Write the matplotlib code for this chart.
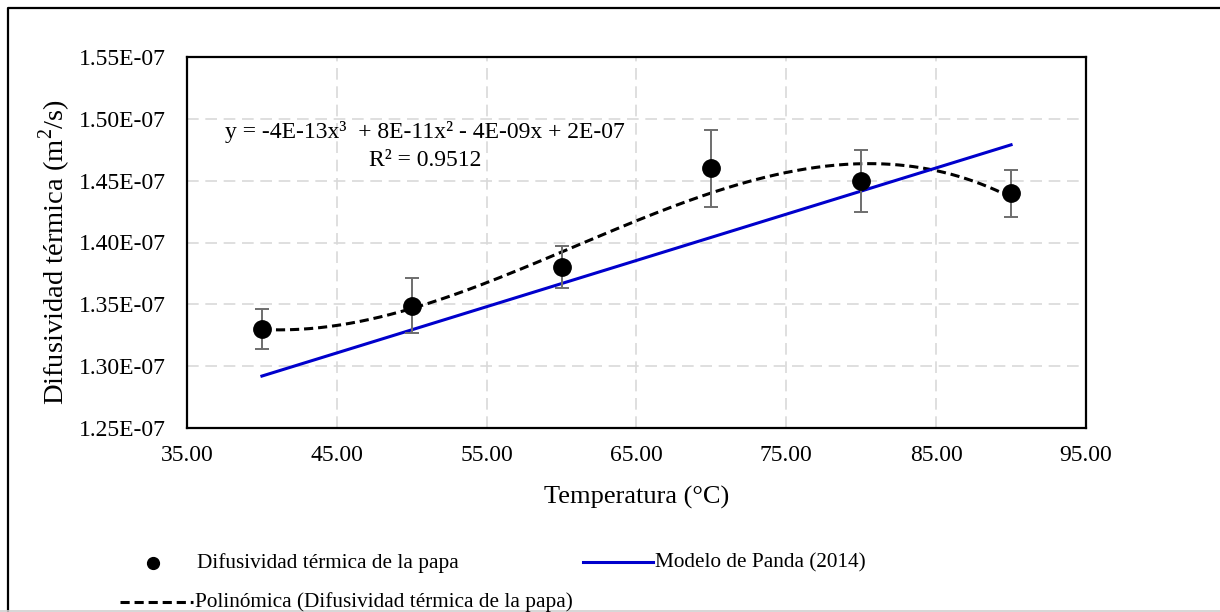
import numpy as np
import matplotlib
matplotlib.use("Agg")
import matplotlib.pyplot as plt
from matplotlib.lines import Line2D
from matplotlib.ticker import FixedLocator, FuncFormatter

plt.rcParams['font.family'] = ['Liberation Serif', 'DejaVu Serif']
plt.rcParams['mathtext.fontset'] = 'custom'
plt.rcParams['mathtext.rm'] = 'Liberation Serif'

# Data
temperatura = [40, 50, 60, 70, 80, 90]
difusividad = [1.330e-7, 1.349e-7, 1.380e-7, 1.460e-7, 1.450e-7, 1.440e-7]
error = [0.016e-7, 0.022e-7, 0.017e-7, 0.031e-7, 0.025e-7, 0.019e-7]
panda_x = [40, 90]
panda_y = [1.292e-7, 1.479e-7]
x_ticks = [35, 45, 55, 65, 75, 85, 95]
y_ticks = [1.25e-7, 1.30e-7, 1.35e-7, 1.40e-7, 1.45e-7, 1.50e-7, 1.55e-7]
ecuacion = "y = -4E-13x³  + 8E-11x² - 4E-09x + 2E-07"
r2_text = "R² = 0.9512"
x_label = "Temperatura (°C)"
y_label = "Difusividad térmica (m$^{2}$/s)"
label_pts = "Difusividad térmica de la papa"
label_panda = "Modelo de Panda (2014)"
label_poly = "Polinómica (Difusividad térmica de la papa)"

W, H = 1220, 612
fig = plt.figure(figsize=(W / 100, H / 100), dpi=100)

def fx(px):
    return px / W

def fy(py):
    return 1 - py / H

ax_l, ax_r, ax_t, ax_b = 187, 1086, 57, 428
ax = fig.add_axes([fx(ax_l), fy(ax_b), fx(ax_r - ax_l), (ax_b - ax_t) / H])

# Cubic trendline fitted to the data
coef = np.polyfit(temperatura, difusividad, 3)
xs = np.linspace(min(temperatura), max(temperatura), 300)
ax.plot(xs, np.polyval(coef, xs), color='black', lw=2.2, dashes=[3, 1.6], zorder=3)

# Panda model
ax.plot(panda_x, panda_y, color='#0000cc', lw=2.2, zorder=3)

# Data points with error bars
ax.errorbar(temperatura, difusividad, yerr=error, fmt='o', color='black',
            ecolor='#6e6e6e', elinewidth=1.4, capsize=5, capthick=1.4,
            markersize=12.5, zorder=4)

ax.set_xlim(35, 95)
ax.set_ylim(1.25e-7, 1.55e-7)
ax.xaxis.set_major_locator(FixedLocator(x_ticks))
ax.yaxis.set_major_locator(FixedLocator(y_ticks))
ax.xaxis.set_major_formatter(FuncFormatter(lambda v, p: f"{v:.2f}"))
ax.yaxis.set_major_formatter(FuncFormatter(lambda v, p: f"{v:.2E}"))
ax.grid(True, color='#d9d9d9', lw=1.2, dashes=(7, 4))
ax.set_axisbelow(True)
ax.tick_params(length=0, labelsize=17, colors='black')
ax.tick_params(axis='x', pad=12)
ax.tick_params(axis='y', pad=15)
for s in ax.spines.values():
    s.set_linewidth(1.6)
    s.set_color('black')

# Axis titles
fig.text(fx(637), fy(497), x_label, ha='center', va='center', fontsize=19)
fig.text(fx(55), fy(252), y_label, ha='center', va='center', fontsize=20.5,
         rotation=90)

# Equation annotation
fig.text(fx(425), fy(132), ecuacion, ha='center', va='center', fontsize=17)
fig.text(fx(425), fy(160), r2_text, ha='center', va='center', fontsize=17)

# Legend (manual, Excel-like layout)
leg_fs = 15.3
fig.add_artist(Line2D([fx(153)], [fy(563)], marker='o', color='black',
                      markersize=8.5, lw=0, transform=fig.transFigure))
fig.text(fx(197), fy(563), label_pts, ha='left', va='center', fontsize=leg_fs)
fig.add_artist(Line2D([fx(583), fx(653)], [fy(562), fy(562)], color='#0000cc',
                      lw=2.2, transform=fig.transFigure))
fig.text(fx(655), fy(563), label_panda, ha='left', va='center', fontsize=leg_fs)
fig.add_artist(Line2D([fx(120), fx(193)], [fy(602), fy(602)], color='black',
                      lw=2.2, dashes=[3, 1.6], transform=fig.transFigure))
fig.text(fx(195), fy(602), label_poly, ha='left', va='center', fontsize=leg_fs)

# Outer frame
fig.add_artist(Line2D([fx(7.5), fx(7.5), fx(W + 5)], [fy(H + 5), fy(7.5), fy(7.5)],
                      color='black', lw=1.6, transform=fig.transFigure))
fig.add_artist(Line2D([0, 1], [fy(610.5), fy(610.5)], color='#d0d0d0',
                      lw=1.2, transform=fig.transFigure))

fig.savefig("out.png", dpi=100)
